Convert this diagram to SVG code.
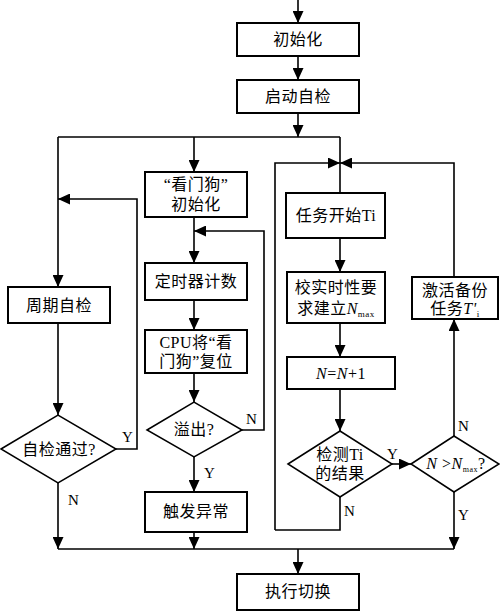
<svg xmlns="http://www.w3.org/2000/svg" width="500" height="611" viewBox="0 0 500 611">
<style>
.box{fill:#fff;stroke:#000;stroke-width:2}
.dia{fill:#fff;stroke:#000;stroke-width:1.5}
.ln{fill:none;stroke:#000;stroke-width:1.6}
.t{font-family:"Liberation Serif","Noto Sans CJK SC",serif;font-size:16px;fill:#000;text-anchor:middle;letter-spacing:0.5px}
.lb{font-family:"Liberation Serif",serif;font-size:15px;fill:#000}
</style>
<defs>
<marker id="a" markerUnits="userSpaceOnUse" markerWidth="13" markerHeight="11" refX="12" refY="5.5" orient="auto">
<path d="M0,0 L12,5.5 L0,11 Z" fill="#000"/>
</marker>
</defs>
<g id="connectors">
<path class="ln" d="M298,0 V23" marker-end="url(#a)"/>
<path class="ln" d="M298,56 V80" marker-end="url(#a)"/>
<path class="ln" d="M298,113 V137" marker-end="url(#a)"/>
<path class="ln" d="M58,137 H340"/>
<path class="ln" d="M58,137 V287" marker-end="url(#a)"/>
<path class="ln" d="M194,137 V172" marker-end="url(#a)"/>
<path class="ln" d="M340,137 V193"/>
<path class="ln" d="M275,530 V163 H340" marker-end="url(#a)"/>
<path class="ln" d="M454,277 V163 H340" marker-end="url(#a)"/>
<path class="ln" d="M194,217 V263" marker-end="url(#a)"/>
<path class="ln" d="M194,300 V330" marker-end="url(#a)"/>
<path class="ln" d="M194,373 V402" marker-end="url(#a)"/>
<path class="ln" d="M242,430 H264 V231 H194" marker-end="url(#a)"/>
<path class="ln" d="M194,457 V492" marker-end="url(#a)"/>
<path class="ln" d="M194,532 V549" marker-end="url(#a)"/>
<path class="ln" d="M58,323 V415" marker-end="url(#a)"/>
<path class="ln" d="M116,449 H137 V199 H58" marker-end="url(#a)"/>
<path class="ln" d="M58,483 V549" marker-end="url(#a)"/>
<path class="ln" d="M340,238 V272" marker-end="url(#a)"/>
<path class="ln" d="M340,323 V357" marker-end="url(#a)"/>
<path class="ln" d="M340,389 V431" marker-end="url(#a)"/>
<path class="ln" d="M340,497 V530 H275"/>
<path class="ln" d="M392,464 H411" marker-end="url(#a)"/>
<path class="ln" d="M454,436 V319" marker-end="url(#a)"/>
<path class="ln" d="M454,492 V549" marker-end="url(#a)"/>
<path class="ln" d="M58,549 H454"/>
<path class="ln" d="M298,549 V574" marker-end="url(#a)"/>
<text class="lb" x="122" y="442">Y</text>
<text class="lb" x="68" y="505">N</text>
<text class="lb" x="246" y="424">N</text>
<text class="lb" x="204" y="478">Y</text>
<text class="lb" x="344" y="516">N</text>
<text class="lb" x="387" y="459">Y</text>
<text class="lb" x="458" y="431">N</text>
<text class="lb" x="458" y="520">Y</text>
</g>
<g id="init"><rect class="box" x="237" y="23" width="122" height="33"/><text class="t" x="298" y="45">初始化</text></g>
<g id="selftest"><rect class="box" x="237" y="80" width="122" height="33"/><text class="t" x="298" y="102">启动自检</text></g>
<g id="periodic"><rect class="box" x="8" y="287" width="102" height="36"/><text class="t" x="59" y="311">周期自检</text></g>
<g id="passcheck"><polygon class="dia" points="1,449 58,415 116,449 58,483"/><text class="t" x="59" y="455">自检通过?</text></g>
<g id="wdinit"><rect class="box" x="145" y="172" width="102" height="45"/><text class="t" x="196" y="190">“看门狗”</text><text class="t" x="196" y="210">初始化</text></g>
<g id="timer"><rect class="box" x="145" y="263" width="102" height="37"/><text class="t" x="196" y="287">定时器计数</text></g>
<g id="cpureset"><rect class="box" x="145" y="330" width="102" height="43"/><text class="t" x="196" y="348">CPU将“看</text><text class="t" x="196" y="367">门狗”复位</text></g>
<g id="overflow"><polygon class="dia" points="147,430 194,402 242,430 194,457"/><text class="t" x="194" y="435">溢出?</text></g>
<g id="exception"><rect class="box" x="145" y="492" width="102" height="40"/><text class="t" x="196" y="517">触发异常</text></g>
<g id="taskstart"><rect class="box" x="286" y="193" width="99" height="45"/><text class="t" x="336" y="221">任务开始Ti</text></g>
<g id="nmax"><rect class="box" x="287" y="272" width="98" height="51"/><text class="t" x="336" y="293">校实时性要</text><text class="t" x="336" y="314">求建立<tspan font-style="italic">N</tspan><tspan font-size="9" dy="3">max</tspan></text></g>
<g id="incr"><rect class="box" x="287" y="357" width="108" height="32"/><text class="t" x="341" y="379"><tspan font-style="italic">N</tspan>=<tspan font-style="italic">N</tspan>+1</text></g>
<g id="detect"><polygon class="dia" points="288,464 340,431 392,464 340,497"/><text class="t" x="340" y="460">检测Ti</text><text class="t" x="340" y="479">的结果</text></g>
<g id="compare"><polygon class="dia" points="411,464 454,436 499,464 454,492"/><text class="t" x="456" y="469"><tspan font-style="italic">N</tspan> &gt;<tspan font-style="italic">N</tspan><tspan font-size="8" dy="3">max</tspan><tspan dy="-3">?</tspan></text></g>
<g id="backup"><rect class="box" x="412" y="277" width="86" height="42"/><text class="t" x="455" y="296">激活备份</text><text class="t" x="455" y="314">任务<tspan font-style="italic">T'</tspan><tspan font-size="9" dy="3">i</tspan></text></g>
<g id="switch"><rect class="box" x="237" y="574" width="122" height="36"/><text class="t" x="298" y="597">执行切换</text></g>
</svg>
